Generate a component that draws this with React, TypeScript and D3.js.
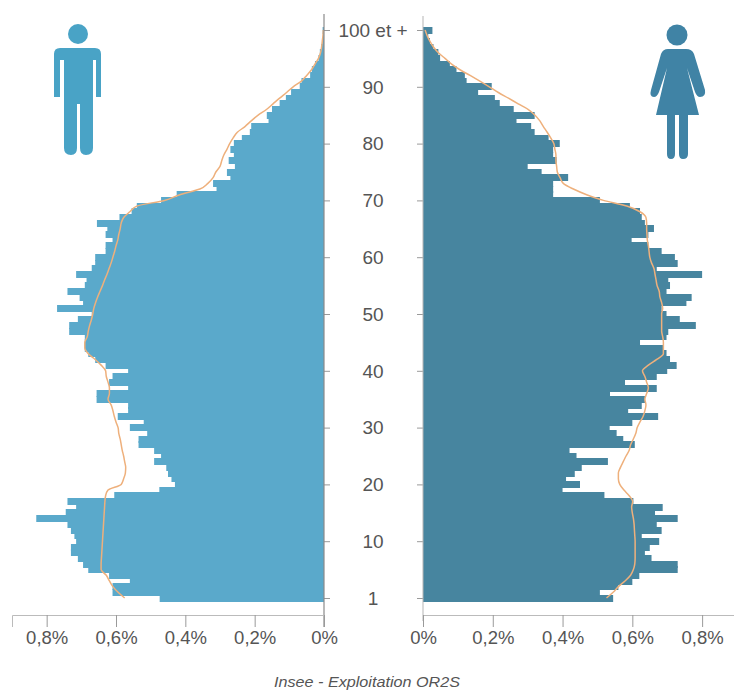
import React, { useRef, useEffect } from 'react';
import * as d3 from 'd3';

// share of the population by single year of age, index 0 is the lowest bar, last is "100 et +"
const maleBars = [
    0.474, 0.61, 0.61, 0.56, 0.62, 0.68, 0.695, 0.71, 0.73, 0.73,
    0.715, 0.72, 0.73, 0.74, 0.83, 0.745, 0.715, 0.74, 0.605, 0.475,
    0.43, 0.44, 0.45, 0.455, 0.49, 0.47, 0.49, 0.535, 0.535, 0.51,
    0.56, 0.52, 0.595, 0.565, 0.565, 0.656, 0.656, 0.565, 0.62, 0.61,
    0.565, 0.63, 0.66, 0.68, 0.69, 0.69, 0.69, 0.735, 0.735, 0.71,
    0.67, 0.77, 0.695, 0.705, 0.74, 0.69, 0.685, 0.715, 0.67, 0.66,
    0.66, 0.63, 0.63, 0.61, 0.63, 0.625, 0.655, 0.59, 0.555, 0.54,
    0.47, 0.425, 0.31, 0.32, 0.27, 0.28, 0.257, 0.275, 0.26, 0.27,
    0.26, 0.237, 0.214, 0.21, 0.16, 0.165, 0.15, 0.128, 0.11, 0.095,
    0.07, 0.065, 0.04, 0.035, 0.026, 0.016, 0.012, 0.008, 0.005, 0.003, 0.004,
];
const femaleBars = [
    0.545, 0.507, 0.56, 0.6, 0.62, 0.73, 0.73, 0.655, 0.636, 0.65,
    0.677, 0.627, 0.684, 0.67, 0.73, 0.665, 0.687, 0.603, 0.52, 0.4,
    0.45, 0.41, 0.435, 0.455, 0.53, 0.44, 0.42, 0.607, 0.574, 0.555,
    0.535, 0.6, 0.674, 0.588, 0.627, 0.636, 0.536, 0.67, 0.579, 0.67,
    0.7, 0.727, 0.708, 0.698, 0.689, 0.622, 0.698, 0.703, 0.782, 0.736,
    0.698, 0.684, 0.755, 0.77, 0.698, 0.708, 0.703, 0.8, 0.67, 0.73,
    0.722, 0.684, 0.646, 0.598, 0.646, 0.662, 0.636, 0.627, 0.622, 0.593,
    0.507, 0.373, 0.373, 0.373, 0.416, 0.34, 0.3, 0.383, 0.373, 0.373,
    0.392, 0.36, 0.32, 0.31, 0.268, 0.32, 0.26, 0.22, 0.206, 0.158,
    0.197, 0.125, 0.12, 0.096, 0.077, 0.049, 0.044, 0.03, 0.02, 0.015, 0.027,
];
// reference population drawn as the orange outline
const maleLine = [
    0.575, 0.594, 0.609, 0.619, 0.628, 0.643, 0.643, 0.642, 0.641, 0.64,
    0.639, 0.638, 0.637, 0.636, 0.635, 0.634, 0.633, 0.632, 0.63, 0.623,
    0.585, 0.578, 0.573, 0.572, 0.575, 0.578, 0.582, 0.585, 0.588, 0.592,
    0.594, 0.6, 0.605, 0.609, 0.614, 0.623, 0.619, 0.619, 0.623, 0.628,
    0.63, 0.643, 0.66, 0.68, 0.69, 0.69, 0.683, 0.68, 0.676, 0.671,
    0.667, 0.664, 0.659, 0.653, 0.646, 0.639, 0.633, 0.626, 0.62, 0.614,
    0.609, 0.604, 0.6, 0.595, 0.592, 0.588, 0.585, 0.578, 0.56, 0.54,
    0.46, 0.416, 0.358, 0.335, 0.32, 0.312, 0.3, 0.295, 0.289, 0.28,
    0.272, 0.262, 0.25, 0.228, 0.21, 0.19, 0.166, 0.147, 0.128, 0.108,
    0.089, 0.065, 0.05, 0.036, 0.026, 0.016, 0.01, 0.007, 0.005, 0.003, 0.002,
];
const femaleLine = [
    0.526, 0.545, 0.56, 0.579, 0.595, 0.603, 0.607, 0.608, 0.608, 0.608,
    0.608, 0.607, 0.606, 0.605, 0.603, 0.6, 0.598, 0.601, 0.591, 0.576,
    0.564, 0.56, 0.56, 0.566, 0.574, 0.582, 0.591, 0.595, 0.603, 0.61,
    0.614, 0.622, 0.631, 0.636, 0.639, 0.636, 0.641, 0.646, 0.641, 0.636,
    0.629, 0.646, 0.67, 0.689, 0.689, 0.689, 0.687, 0.684, 0.684, 0.684,
    0.684, 0.687, 0.684, 0.679, 0.677, 0.671, 0.668, 0.665, 0.662, 0.655,
    0.65, 0.648, 0.646, 0.643, 0.642, 0.641, 0.641, 0.639, 0.622, 0.584,
    0.517, 0.469, 0.431, 0.402, 0.393, 0.385, 0.383, 0.381, 0.381, 0.378,
    0.375, 0.366, 0.356, 0.345, 0.335, 0.321, 0.302, 0.273, 0.245, 0.216,
    0.19, 0.163, 0.135, 0.106, 0.082, 0.063, 0.044, 0.03, 0.02, 0.012, 0.006,
];
const ageTicks = [0, 10, 20, 30, 40, 50, 60, 70, 80, 90, 100];
const ageLabels = ['1', '10', '20', '30', '40', '50', '60', '70', '80', '90', '100 et +'];
const shareTicks = [0, 0.2, 0.4, 0.6, 0.8];

const width = 734;
const height = 692;
const maleColor = '#5aa9cb';
const femaleColor = '#47859f';
const lineColor = '#eeb07c';
const axisColor = '#9a9a9a';
const textColor = '#555';
const font = '"Liberation Sans", Arial, sans-serif';

const formatShare = (d: number) => (d === 0 ? '0%' : `${d.toFixed(1).replace('.', ',')}%`);

const App: React.FC = () => {
    const ref = useRef<SVGSVGElement | null>(null);

    useEffect(() => {
        const svg = d3.select(ref.current);
        svg.selectAll('*').remove();

        const defs = svg.append('defs');
        defs.append('filter').attr('id', 'soft')
            .append('feGaussianBlur').attr('stdDeviation', 0.6);

        const y = d3.scaleLinear().domain([0, 100]).range([598, 30]);
        const xMale = d3.scaleLinear().domain([0, 0.9]).range([324, 12]);
        const xFemale = d3.scaleLinear().domain([0, 0.9]).range([423, 737]);
        const ages = d3.range(maleBars.length);
        const barHeight = y(0) - y(1);

        const drawSide = (
            x: d3.ScaleLinear<number, number>,
            bars: number[],
            outline: number[],
            color: string,
        ) => {
            const g = svg.append('g').attr('filter', 'url(#soft)');
            g.selectAll('rect')
                .data(ages)
                .enter()
                .append('rect')
                .attr('x', (a) => Math.min(x(0), x(bars[a])))
                .attr('y', (a) => Math.floor(y(a) - barHeight / 2))
                .attr('width', (a) => Math.abs(x(bars[a]) - x(0)))
                .attr('height', Math.ceil(barHeight) + 1)
                .attr('fill', color);

            const line = d3.line<number>()
                .x((a) => x(outline[a]))
                .y((a) => y(a))
                .curve(d3.curveMonotoneY);
            g.append('path')
                .attr('d', line(ages))
                .attr('fill', 'none')
                .attr('stroke', lineColor)
                .attr('stroke-width', 1.5);
        };
        drawSide(xMale, maleBars, maleLine, maleColor);
        drawSide(xFemale, femaleBars, femaleLine, femaleColor);

        // vertical axes, ticks point to the middle column
        const yLeft = svg.append('g')
            .attr('transform', 'translate(324,0)')
            .call(d3.axisRight(y).tickValues(ageTicks).tickSize(6).tickFormat(() => ''));
        const yRight = svg.append('g')
            .attr('transform', 'translate(423,0)')
            .call(d3.axisLeft(y).tickValues(ageTicks).tickSize(6).tickFormat(() => ''));
        yLeft.select('.domain').remove();
        yRight.select('.domain').remove();
        [yLeft, yRight].forEach((a) => a.selectAll('line').attr('stroke', axisColor));
        svg.append('line').attr('x1', 324).attr('x2', 324).attr('y1', 14).attr('y2', 627)
            .attr('stroke', '#8a8a8a').attr('stroke-width', 1.2);
        svg.append('line').attr('x1', 423).attr('x2', 423).attr('y1', 16).attr('y2', 621)
            .attr('stroke', '#b5b5b5');

        svg.append('g')
            .selectAll('text')
            .data(ageTicks)
            .enter()
            .append('text')
            .attr('x', 373)
            .attr('y', (d) => y(d))
            .attr('dy', '0.36em')
            .attr('text-anchor', 'middle')
            .attr('font-family', font)
            .attr('font-size', 19)
            .attr('fill', textColor)
            .text((d, i) => ageLabels[i]);

        // horizontal axes
        const drawShareAxis = (x: d3.ScaleLinear<number, number>) => {
            const a = svg.append('g')
                .attr('transform', 'translate(0,615)')
                .call(d3.axisBottom(x).tickValues(shareTicks).tickSize(12).tickPadding(4).tickFormat((d) => formatShare(+d)));
            a.select('.domain').attr('stroke', '#bbb');
            a.selectAll('line').attr('stroke', axisColor);
            a.selectAll('text')
                .attr('font-family', font)
                .attr('font-size', 18.5)
                .attr('fill', textColor);
        };
        drawShareAxis(xMale);
        drawShareAxis(xFemale);

        svg.append('text')
            .attr('x', 367)
            .attr('y', 687)
            .attr('text-anchor', 'middle')
            .attr('font-family', font)
            .attr('font-style', 'italic')
            .attr('font-size', 14)
            .attr('textLength', 186)
            .attr('lengthAdjust', 'spacingAndGlyphs')
            .attr('fill', textColor)
            .text('Insee - Exploitation OR2S');

        // pictograms
        const man = svg.append('g').attr('fill', '#4aa3c6').attr('filter', 'url(#soft)');
        man.append('circle').attr('cx', 78).attr('cy', 34).attr('r', 10);
        man.append('path').attr('d', 'M60 48H95Q101 48 101 54V97H96V60H93V148Q93 155 86 155Q80 155 80 148V104H77V148Q77 155 71 155Q64 155 64 148V60H60V97H54V54Q54 48 60 48Z');

        const woman = svg.append('g').attr('fill', '#3f83a5').attr('filter', 'url(#soft)');
        woman.append('circle').attr('cx', 677).attr('cy', 35).attr('r', 10.5);
        woman.append('path').attr('d', 'M668 49H686Q692 49 694 54L705 90Q706 97 700 97Q697 97 695 92L687 68L699 115H688V154Q688 159 683 159Q679 159 679 154V115H675V154Q675 159 671 159Q667 159 667 154V115H656L667 68L659 92Q657 97 654 97Q649 97 651 90L661 54Q663 49 668 49Z');
    }, []);

    return (
        <svg
            ref={ref}
            width={width}
            height={height}
            style={{ position: 'absolute', left: 0, top: 0, display: 'block', background: '#fff' }}
        />
    );
};

export default App;
